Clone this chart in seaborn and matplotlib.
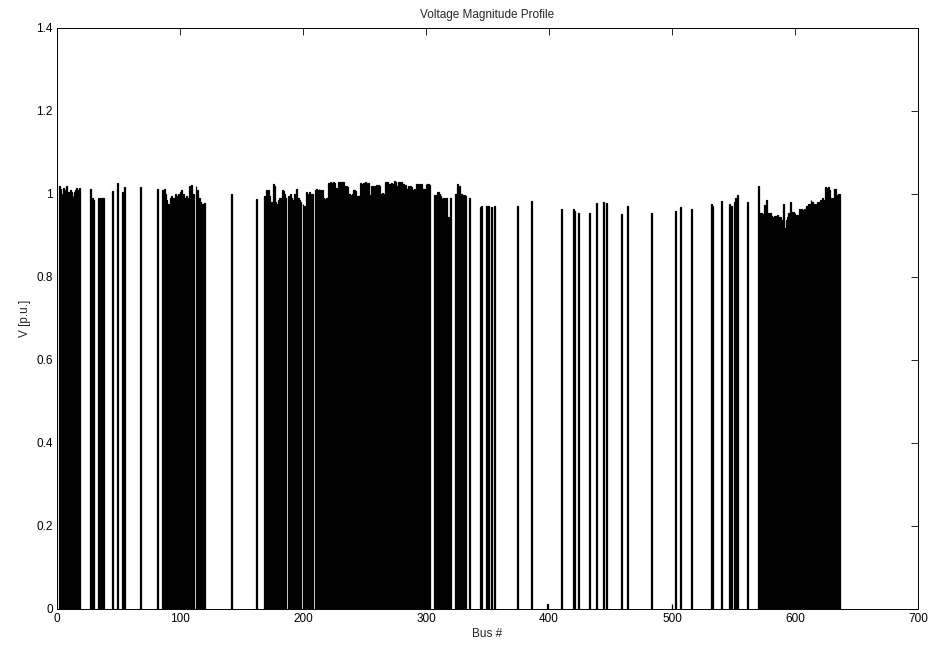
import numpy as np
import pandas as pd
import matplotlib
matplotlib.use("Agg")
import matplotlib.pyplot as plt
import seaborn as sns

# ================= DADOS =================
# first bus number of each block of consecutive buses
seg_starts = [2, 11, 27, 34, 37, 45, 49, 53, 55, 68, 82, 86, 108, 113, 142, 162,
              169, 188, 200, 203, 207, 210, 307, 318, 320, 324, 335, 344, 349, 353,
              356, 374, 386, 399, 410, 420, 424, 433, 439, 444, 447, 459, 464, 483,
              500, 503, 507, 516, 532, 540, 547, 551, 561, 570, 572, 625]

# voltage magnitudes [p.u.] of each block
seg_values = [
    [1.02, 1.012, 1.0, 1.015, 0.995, 1.01, 1.02, 1.005],
    [1.01, 1.005, 0.995, 1.005, 1.01, 1.015, 1.01, 1.015],
    [1.012, 0.985, 0.99, 0.985],
    [0.99, 0.99],
    [0.99, 0.99],
    [1.008],
    [1.026],
    [1.005],
    [1.016],
    [1.017],
    [1.013],
    [1.01, 1.012, 1.0, 0.985, 0.97, 0.975, 0.99, 0.995, 0.985, 0.99, 1.0,
     0.995, 0.99, 1.0, 1.005, 1.01, 0.985, 1.0, 0.99, 0.995, 0.99],
    [1.02, 1.022, 0.99, 1.0],
    [1.02, 1.01, 0.985, 0.99, 0.98, 0.975, 0.975, 0.978],
    [1.0],
    [0.987],
    [0.995, 1.01, 1.008, 1.01, 0.995, 0.98, 0.98, 1.025, 1.02, 0.98, 0.975,
     0.985, 0.99, 0.99, 1.01, 1.008, 1.0, 0.99],
    [0.995, 0.99, 1.0, 0.99, 0.985, 1.0, 0.995, 1.012, 0.99, 0.985, 0.98],
    [0.975, 0.97],
    [1.005, 1.0, 1.005],
    [1.0, 1.0],
    [1.01, 1.012, 1.01, 1.012, 1.01, 1.008, 1.01, 0.99, 0.988, 0.99, 0.99,
     1.027, 1.028, 1.025, 1.027, 1.028, 1.026, 1.015, 1.015, 1.03, 1.03,
     1.028, 1.03, 1.029, 1.02, 1.02, 1.018, 1.0, 1.0, 0.998, 1.0, 1.01, 1.01,
     1.008, 0.996, 0.995, 0.996, 1.027, 1.025, 1.027, 1.027, 1.028, 1.026,
     1.027, 0.998, 0.998, 1.02, 1.02, 1.018, 1.02, 1.022, 1.022, 1.02, 1.0,
     1.0, 1.002, 1.0, 1.03, 1.03, 1.028, 1.025, 1.025, 1.026, 1.024, 1.032,
     1.03, 1.02, 1.02, 1.03, 1.03, 1.028, 1.024, 1.024, 1.022, 1.013, 1.013,
     1.02, 1.02, 1.018, 1.01, 1.01, 1.012, 1.025, 1.025, 1.022, 1.025, 1.024,
     1.013, 1.013, 1.012, 1.025, 1.024, 1.025, 1.022],
    [0.998, 0.998, 1.005, 1.005, 1.0, 0.995, 0.99, 0.99, 0.99, 0.985, 0.99],
    [0.945],
    [0.99],
    [1.0, 1.0, 1.025, 1.02, 1.0, 1.0, 0.998, 0.998, 0.995],
    [0.99],
    [0.968, 0.97],
    [0.97, 0.972, 0.97],
    [0.968],
    [0.97],
    [0.97],
    [0.983],
    [0.012],
    [0.965],
    [0.963, 0.96],
    [0.955],
    [0.955],
    [0.978],
    [0.98],
    [0.978],
    [0.952],
    [0.972],
    [0.953],
    [0.012],
    [0.96],
    [0.968],
    [0.965],
    [0.975, 0.97],
    [0.983],
    [0.975, 0.97],
    [0.98, 0.99, 0.998],
    [0.98],
    [1.019],
    [0.955, 0.955, 0.952, 0.973, 0.96, 0.985, 0.953, 0.953, 0.955, 0.947,
     0.945, 0.948, 0.947, 0.945, 0.95, 0.945, 0.945, 0.937, 0.937, 0.977,
     0.917, 0.937, 0.945, 0.953, 0.98, 0.957, 0.955, 0.957, 0.955, 0.95,
     0.95, 0.945, 0.963, 0.963, 0.96, 0.962, 0.965, 0.97, 0.97, 0.975,
     0.977, 0.985, 0.98, 0.975, 0.97, 0.975, 0.98, 0.975, 0.98, 0.985,
     0.99, 0.985],
    [1.017, 1.015, 1.017, 1.01, 0.99, 0.99, 0.99, 1.013, 1.013, 0.998, 1.0, 1.0],
]

x_ticks = [0, 100, 200, 300, 400, 500, 600, 700]
y_ticks = [0, 0.2, 0.4, 0.6, 0.8, 1.0, 1.2, 1.4]
y_tick_labels = ["0", "0.2", "0.4", "0.6", "0.8", "1", "1.2", "1.4"]

# ================= MONTA TABELA =================
bus = []
volt = []
for inicio, valores in zip(seg_starts, seg_values):
    for i, v in enumerate(valores):
        bus.append(inicio + i)
        volt.append(v)
df = pd.DataFrame({"Bus": bus, "V": volt})

# ================= GRÁFICO =================
sns.set_style("white")
plt.rcParams["font.family"] = ["Liberation Sans", "DejaVu Sans"]

fig = plt.figure(figsize=(9.3, 6.48), dpi=100)
ax = fig.add_axes([0.0613, 0.0602, 0.9258, 0.8966])

sns.barplot(data=df, x="Bus", y="V", native_scale=True, orient="x",
            color="black", width=0.8, errorbar=None, saturation=1,
            edgecolor="black", linewidth=0.9, ax=ax)

ax.set_xlim(0, 700)
ax.set_ylim(0, 1.4)
ax.set_xticks(x_ticks)
ax.set_xticklabels([str(t) for t in x_ticks])
ax.set_yticks(y_ticks)
ax.set_yticklabels(y_tick_labels)
ax.tick_params(direction="in", length=5, width=0.6, top=True, right=True,
               labelsize=8.5, colors="black", pad=3)
for s in ax.spines.values():
    s.set_visible(True)
    s.set_color("black")
    s.set_linewidth(0.7)

ax.set_title("Voltage Magnitude Profile", fontsize=8.5, pad=7)
ax.set_xlabel("Bus #", fontsize=8.5, labelpad=2)
ax.set_ylabel("V [p.u.]", fontsize=8.5, labelpad=4)

fig.savefig("out.png", dpi=100)
